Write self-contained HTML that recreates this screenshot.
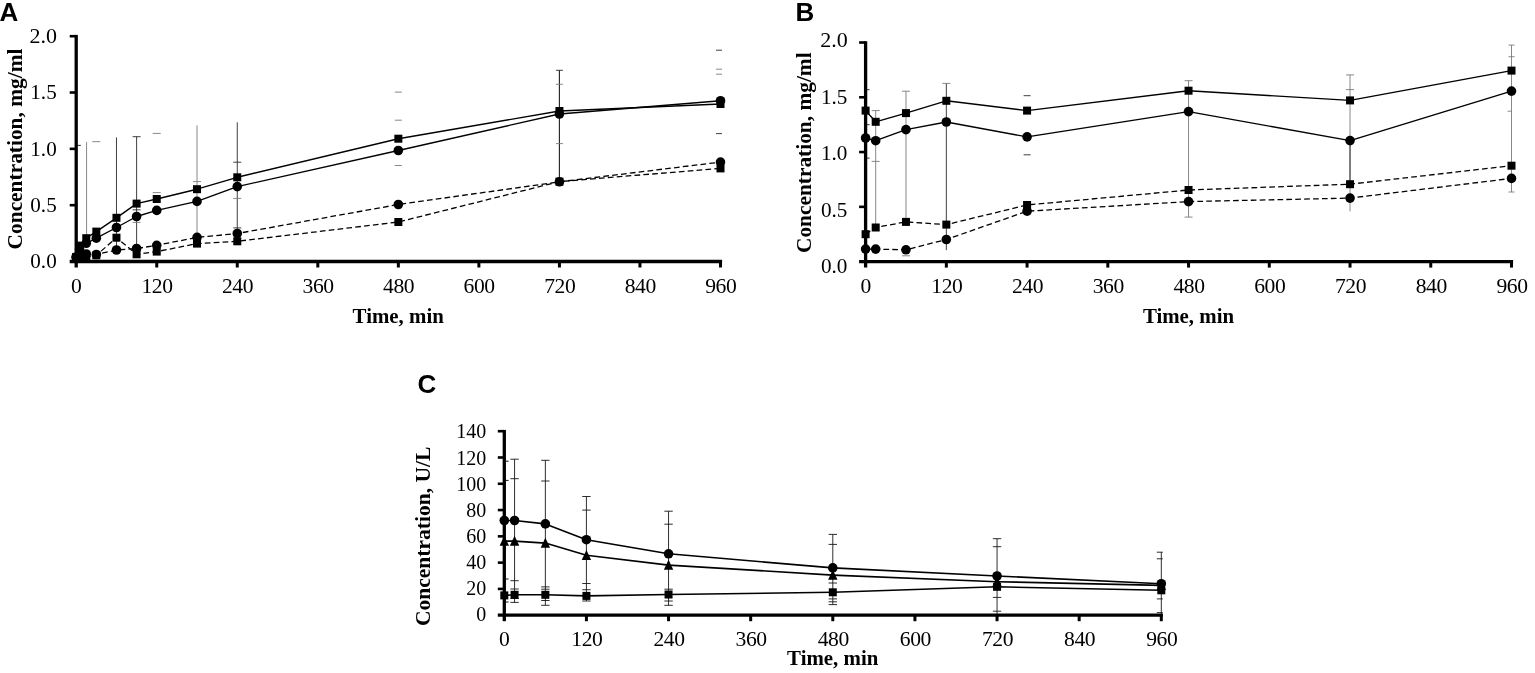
<!DOCTYPE html>
<html lang="en">
<head>
<meta charset="utf-8">
<title>Figure</title>
<style>
html,body{margin:0;padding:0;background:#fff;}
body{width:1535px;height:673px;overflow:hidden;}
svg{display:block;}
</style>
</head>
<body>
<svg width="1535" height="673" viewBox="0 0 1535 673">
<rect x="0" y="0" width="1535" height="673" fill="#fff"/>
<line x1="86.57" y1="142.10" x2="86.57" y2="238.00" stroke="#7a7a7a" stroke-width="0.9" />
<line x1="92.30" y1="141.70" x2="100.30" y2="141.70" stroke="#7a7a7a" stroke-width="0.9" />
<line x1="116.47" y1="137.40" x2="116.47" y2="250.00" stroke="#2a2a2a" stroke-width="0.9" />
<line x1="136.60" y1="136.70" x2="136.60" y2="249.00" stroke="#2a2a2a" stroke-width="0.9" />
<line x1="132.60" y1="136.70" x2="140.60" y2="136.70" stroke="#2a2a2a" stroke-width="0.9" />
<line x1="132.60" y1="209.80" x2="140.60" y2="209.80" stroke="#2a2a2a" stroke-width="0.9" />
<line x1="132.60" y1="222.40" x2="140.60" y2="222.40" stroke="#7a7a7a" stroke-width="0.9" />
<line x1="152.74" y1="133.40" x2="160.74" y2="133.40" stroke="#7a7a7a" stroke-width="0.9" />
<line x1="152.74" y1="192.60" x2="160.74" y2="192.60" stroke="#7a7a7a" stroke-width="0.9" />
<line x1="197.01" y1="125.40" x2="197.01" y2="237.40" stroke="#7a7a7a" stroke-width="0.9" />
<line x1="193.01" y1="181.60" x2="201.01" y2="181.60" stroke="#7a7a7a" stroke-width="0.9" />
<line x1="237.27" y1="122.30" x2="237.27" y2="233.50" stroke="#2a2a2a" stroke-width="0.9" />
<line x1="233.27" y1="162.20" x2="241.27" y2="162.20" stroke="#2a2a2a" stroke-width="0.9" />
<line x1="233.27" y1="198.40" x2="241.27" y2="198.40" stroke="#7a7a7a" stroke-width="0.9" />
<line x1="233.27" y1="227.90" x2="241.27" y2="227.90" stroke="#2a2a2a" stroke-width="0.9" />
<line x1="77.80" y1="145.40" x2="80.80" y2="145.40" stroke="#2a2a2a" stroke-width="1" />
<line x1="394.85" y1="92.10" x2="401.85" y2="92.10" stroke="#7a7a7a" stroke-width="0.9" />
<line x1="394.85" y1="120.20" x2="401.85" y2="120.20" stroke="#7a7a7a" stroke-width="0.9" />
<line x1="394.85" y1="165.50" x2="401.85" y2="165.50" stroke="#7a7a7a" stroke-width="0.9" />
<line x1="559.43" y1="70.30" x2="559.43" y2="182.00" stroke="#2a2a2a" stroke-width="1.2" />
<line x1="555.93" y1="70.30" x2="562.93" y2="70.30" stroke="#2a2a2a" stroke-width="0.9" />
<line x1="555.93" y1="84.30" x2="562.93" y2="84.30" stroke="#7a7a7a" stroke-width="0.9" />
<line x1="555.93" y1="143.60" x2="562.93" y2="143.60" stroke="#7a7a7a" stroke-width="0.9" />
<line x1="716.00" y1="50.20" x2="722.00" y2="50.20" stroke="#2a2a2a" stroke-width="0.9" />
<line x1="716.00" y1="69.20" x2="722.00" y2="69.20" stroke="#7a7a7a" stroke-width="0.9" />
<line x1="716.00" y1="74.20" x2="722.00" y2="74.20" stroke="#7a7a7a" stroke-width="0.9" />
<line x1="716.00" y1="133.60" x2="722.00" y2="133.60" stroke="#2a2a2a" stroke-width="0.9" />
<polyline points="76.20,258.00 79.56,257.50 86.27,257.30 96.33,255.30 116.47,237.70 136.60,254.30 156.74,251.60 197.01,243.60 237.27,241.30 398.35,222.00 559.43,181.60 720.50,168.40" fill="none" stroke="#000" stroke-width="1.3" stroke-dasharray="5.7 3.2" stroke-linejoin="round"/>
<polyline points="76.20,257.50 79.56,256.00 86.27,254.00 96.33,254.50 116.47,250.00 136.60,248.50 156.74,245.30 197.01,237.40 237.27,233.50 398.35,204.50 559.43,181.80 720.50,162.10" fill="none" stroke="#000" stroke-width="1.3" stroke-dasharray="5.7 3.2" stroke-linejoin="round"/>
<polyline points="76.20,256.90 79.56,245.60 86.27,238.20 96.33,231.60 116.47,217.80 136.60,203.60 156.74,199.00 197.01,189.20 237.27,177.30 398.35,138.70 559.43,111.00 720.50,104.00" fill="none" stroke="#000" stroke-width="1.4" stroke-linejoin="round"/>
<polyline points="76.20,257.00 79.56,249.10 86.27,243.30 96.33,238.20 116.47,227.50 136.60,216.50 156.74,210.40 197.01,201.40 237.27,186.60 398.35,150.50 559.43,114.00 720.50,100.70" fill="none" stroke="#000" stroke-width="1.4" stroke-linejoin="round"/>
<rect x="72.20" y="254.00" width="8" height="8" fill="#000"/>
<rect x="75.56" y="253.50" width="8" height="8" fill="#000"/>
<rect x="82.27" y="253.30" width="8" height="8" fill="#000"/>
<rect x="92.33" y="251.30" width="8" height="8" fill="#000"/>
<rect x="112.47" y="233.70" width="8" height="8" fill="#000"/>
<rect x="132.60" y="250.30" width="8" height="8" fill="#000"/>
<rect x="152.74" y="247.60" width="8" height="8" fill="#000"/>
<rect x="193.01" y="239.60" width="8" height="8" fill="#000"/>
<rect x="233.27" y="237.30" width="8" height="8" fill="#000"/>
<rect x="394.35" y="218.00" width="8" height="8" fill="#000"/>
<rect x="555.43" y="177.60" width="8" height="8" fill="#000"/>
<rect x="716.50" y="164.40" width="8" height="8" fill="#000"/>
<circle cx="76.20" cy="257.50" r="4.8" fill="#000"/>
<circle cx="79.56" cy="256.00" r="4.8" fill="#000"/>
<circle cx="86.27" cy="254.00" r="4.8" fill="#000"/>
<circle cx="96.33" cy="254.50" r="4.8" fill="#000"/>
<circle cx="116.47" cy="250.00" r="4.8" fill="#000"/>
<circle cx="136.60" cy="248.50" r="4.8" fill="#000"/>
<circle cx="156.74" cy="245.30" r="4.8" fill="#000"/>
<circle cx="197.01" cy="237.40" r="4.8" fill="#000"/>
<circle cx="237.27" cy="233.50" r="4.8" fill="#000"/>
<circle cx="398.35" cy="204.50" r="4.8" fill="#000"/>
<circle cx="559.43" cy="181.80" r="4.8" fill="#000"/>
<circle cx="720.50" cy="162.10" r="4.8" fill="#000"/>
<rect x="72.20" y="252.90" width="8" height="8" fill="#000"/>
<rect x="75.56" y="241.60" width="8" height="8" fill="#000"/>
<rect x="82.27" y="234.20" width="8" height="8" fill="#000"/>
<rect x="92.33" y="227.60" width="8" height="8" fill="#000"/>
<rect x="112.47" y="213.80" width="8" height="8" fill="#000"/>
<rect x="132.60" y="199.60" width="8" height="8" fill="#000"/>
<rect x="152.74" y="195.00" width="8" height="8" fill="#000"/>
<rect x="193.01" y="185.20" width="8" height="8" fill="#000"/>
<rect x="233.27" y="173.30" width="8" height="8" fill="#000"/>
<rect x="394.35" y="134.70" width="8" height="8" fill="#000"/>
<rect x="555.43" y="107.00" width="8" height="8" fill="#000"/>
<rect x="716.50" y="100.00" width="8" height="8" fill="#000"/>
<circle cx="76.20" cy="257.00" r="4.8" fill="#000"/>
<circle cx="79.56" cy="249.10" r="4.8" fill="#000"/>
<circle cx="86.27" cy="243.30" r="4.8" fill="#000"/>
<circle cx="96.33" cy="238.20" r="4.8" fill="#000"/>
<circle cx="116.47" cy="227.50" r="4.8" fill="#000"/>
<circle cx="136.60" cy="216.50" r="4.8" fill="#000"/>
<circle cx="156.74" cy="210.40" r="4.8" fill="#000"/>
<circle cx="197.01" cy="201.40" r="4.8" fill="#000"/>
<circle cx="237.27" cy="186.60" r="4.8" fill="#000"/>
<circle cx="398.35" cy="150.50" r="4.8" fill="#000"/>
<circle cx="559.43" cy="114.00" r="4.8" fill="#000"/>
<circle cx="720.50" cy="100.70" r="4.8" fill="#000"/>
<line x1="76.20" y1="34.90" x2="76.20" y2="267.50" stroke="#000" stroke-width="3.3" />
<line x1="69.70" y1="261.50" x2="722.10" y2="261.50" stroke="#000" stroke-width="3.3" />
<line x1="69.70" y1="36.20" x2="76.20" y2="36.20" stroke="#000" stroke-width="2.6" />
<line x1="69.70" y1="92.53" x2="76.20" y2="92.53" stroke="#000" stroke-width="2.6" />
<line x1="69.70" y1="148.85" x2="76.20" y2="148.85" stroke="#000" stroke-width="2.6" />
<line x1="69.70" y1="205.18" x2="76.20" y2="205.18" stroke="#000" stroke-width="2.6" />
<line x1="156.74" y1="261.50" x2="156.74" y2="267.50" stroke="#000" stroke-width="3.0" />
<line x1="237.27" y1="261.50" x2="237.27" y2="267.50" stroke="#000" stroke-width="3.0" />
<line x1="317.81" y1="261.50" x2="317.81" y2="267.50" stroke="#000" stroke-width="3.0" />
<line x1="398.35" y1="261.50" x2="398.35" y2="267.50" stroke="#000" stroke-width="3.0" />
<line x1="478.89" y1="261.50" x2="478.89" y2="267.50" stroke="#000" stroke-width="3.0" />
<line x1="559.43" y1="261.50" x2="559.43" y2="267.50" stroke="#000" stroke-width="3.0" />
<line x1="639.96" y1="261.50" x2="639.96" y2="267.50" stroke="#000" stroke-width="3.0" />
<line x1="720.50" y1="261.50" x2="720.50" y2="267.50" stroke="#000" stroke-width="3.0" />
<text x="57.00" y="43.00" font-family='"Liberation Serif", "Times New Roman", serif' font-size="22.0" font-weight="normal" text-anchor="end">2.0</text>
<text x="56.70" y="99.30" font-family='"Liberation Serif", "Times New Roman", serif' font-size="21.1" font-weight="normal" text-anchor="end">1.5</text>
<text x="56.70" y="155.60" font-family='"Liberation Serif", "Times New Roman", serif' font-size="21.1" font-weight="normal" text-anchor="end">1.0</text>
<text x="56.70" y="211.90" font-family='"Liberation Serif", "Times New Roman", serif' font-size="21.1" font-weight="normal" text-anchor="end">0.5</text>
<text x="56.70" y="268.20" font-family='"Liberation Serif", "Times New Roman", serif' font-size="21.1" font-weight="normal" text-anchor="end">0.0</text>
<text x="76.20" y="293.40" font-family='"Liberation Serif", "Times New Roman", serif' font-size="21.6" font-weight="normal" text-anchor="middle" letter-spacing="-0.4">0</text>
<text x="157.04" y="293.40" font-family='"Liberation Serif", "Times New Roman", serif' font-size="21.6" font-weight="normal" text-anchor="middle" letter-spacing="-0.4">120</text>
<text x="237.57" y="293.40" font-family='"Liberation Serif", "Times New Roman", serif' font-size="21.6" font-weight="normal" text-anchor="middle" letter-spacing="-0.4">240</text>
<text x="318.11" y="293.40" font-family='"Liberation Serif", "Times New Roman", serif' font-size="21.6" font-weight="normal" text-anchor="middle" letter-spacing="-0.4">360</text>
<text x="398.65" y="293.40" font-family='"Liberation Serif", "Times New Roman", serif' font-size="21.6" font-weight="normal" text-anchor="middle" letter-spacing="-0.4">480</text>
<text x="479.19" y="293.40" font-family='"Liberation Serif", "Times New Roman", serif' font-size="21.6" font-weight="normal" text-anchor="middle" letter-spacing="-0.4">600</text>
<text x="559.73" y="293.40" font-family='"Liberation Serif", "Times New Roman", serif' font-size="21.6" font-weight="normal" text-anchor="middle" letter-spacing="-0.4">720</text>
<text x="640.26" y="293.40" font-family='"Liberation Serif", "Times New Roman", serif' font-size="21.6" font-weight="normal" text-anchor="middle" letter-spacing="-0.4">840</text>
<text x="720.80" y="293.40" font-family='"Liberation Serif", "Times New Roman", serif' font-size="21.6" font-weight="normal" text-anchor="middle" letter-spacing="-0.4">960</text>
<text x="398.20" y="322.90" font-family='"Liberation Serif", "Times New Roman", serif' font-size="21" font-weight="bold" text-anchor="middle" textLength="91.2" lengthAdjust="spacingAndGlyphs">Time, min</text>
<text x="21.60" y="249.40" font-family='"Liberation Serif", "Times New Roman", serif' font-size="21.4" font-weight="bold" text-anchor="start" transform="rotate(-90 21.60 249.40)" textLength="200.8" lengthAdjust="spacingAndGlyphs">Concentration, mg/ml</text>
<text x="-0.50" y="21.20" font-family='"Liberation Sans", Arial, sans-serif' font-size="26" font-weight="bold" text-anchor="start">A</text>
<line x1="875.69" y1="110.60" x2="875.69" y2="227.50" stroke="#7a7a7a" stroke-width="0.9" />
<line x1="871.69" y1="110.60" x2="879.69" y2="110.60" stroke="#7a7a7a" stroke-width="0.9" />
<line x1="871.69" y1="161.40" x2="879.69" y2="161.40" stroke="#7a7a7a" stroke-width="0.9" />
<line x1="905.97" y1="91.20" x2="905.97" y2="222.00" stroke="#7a7a7a" stroke-width="0.9" />
<line x1="901.97" y1="91.20" x2="909.97" y2="91.20" stroke="#7a7a7a" stroke-width="0.9" />
<line x1="901.97" y1="255.80" x2="909.97" y2="255.80" stroke="#7a7a7a" stroke-width="0.9" />
<line x1="946.34" y1="83.40" x2="946.34" y2="250.20" stroke="#2a2a2a" stroke-width="0.9" />
<line x1="942.34" y1="83.40" x2="950.34" y2="83.40" stroke="#7a7a7a" stroke-width="0.9" />
<line x1="1023.58" y1="95.70" x2="1030.58" y2="95.70" stroke="#2a2a2a" stroke-width="0.9" />
<line x1="1023.58" y1="154.80" x2="1030.58" y2="154.80" stroke="#2a2a2a" stroke-width="0.9" />
<line x1="867.20" y1="89.70" x2="869.60" y2="89.70" stroke="#2a2a2a" stroke-width="1" />
<line x1="867.20" y1="124.70" x2="869.60" y2="124.70" stroke="#2a2a2a" stroke-width="1" />
<line x1="867.20" y1="158.10" x2="869.60" y2="158.10" stroke="#2a2a2a" stroke-width="1" />
<line x1="1188.55" y1="80.70" x2="1188.55" y2="217.10" stroke="#7a7a7a" stroke-width="0.9" />
<line x1="1184.55" y1="80.70" x2="1192.55" y2="80.70" stroke="#7a7a7a" stroke-width="0.9" />
<line x1="1184.55" y1="217.10" x2="1192.55" y2="217.10" stroke="#7a7a7a" stroke-width="0.9" />
<line x1="1350.03" y1="74.90" x2="1350.03" y2="211.30" stroke="#7a7a7a" stroke-width="0.9" />
<line x1="1350.03" y1="140.00" x2="1350.03" y2="184.00" stroke="#2a2a2a" stroke-width="0.9" />
<line x1="1346.03" y1="74.90" x2="1354.03" y2="74.90" stroke="#7a7a7a" stroke-width="0.9" />
<line x1="1346.03" y1="89.60" x2="1354.03" y2="89.60" stroke="#7a7a7a" stroke-width="0.9" />
<line x1="1511.50" y1="45.10" x2="1511.50" y2="192.00" stroke="#7a7a7a" stroke-width="0.9" />
<line x1="1508.50" y1="45.10" x2="1514.50" y2="45.10" stroke="#7a7a7a" stroke-width="0.9" />
<line x1="1508.50" y1="56.70" x2="1514.50" y2="56.70" stroke="#7a7a7a" stroke-width="0.9" />
<line x1="1507.50" y1="111.20" x2="1511.50" y2="111.20" stroke="#7a7a7a" stroke-width="0.9" />
<line x1="1508.50" y1="192.00" x2="1514.50" y2="192.00" stroke="#7a7a7a" stroke-width="0.9" />
<polyline points="865.60,234.20 875.69,227.50 905.97,221.90 946.34,224.60 1027.08,205.00 1188.55,190.00 1350.03,184.20 1511.50,165.70" fill="none" stroke="#000" stroke-width="1.3" stroke-dasharray="5.7 3.2" stroke-linejoin="round"/>
<polyline points="865.60,249.10 875.69,249.10 905.97,249.80 946.34,239.50 1027.08,211.20 1188.55,201.60 1350.03,198.10 1511.50,178.40" fill="none" stroke="#000" stroke-width="1.3" stroke-dasharray="5.7 3.2" stroke-linejoin="round"/>
<polyline points="865.60,110.60 875.69,121.80 905.97,113.10 946.34,100.80 1027.08,110.60 1188.55,90.70 1350.03,100.40 1511.50,70.60" fill="none" stroke="#000" stroke-width="1.4" stroke-linejoin="round"/>
<polyline points="865.60,138.00 875.69,140.70 905.97,129.60 946.34,122.00 1027.08,136.90 1188.55,111.60 1350.03,140.60 1511.50,91.10" fill="none" stroke="#000" stroke-width="1.4" stroke-linejoin="round"/>
<rect x="861.60" y="230.20" width="8" height="8" fill="#000"/>
<rect x="871.69" y="223.50" width="8" height="8" fill="#000"/>
<rect x="901.97" y="217.90" width="8" height="8" fill="#000"/>
<rect x="942.34" y="220.60" width="8" height="8" fill="#000"/>
<rect x="1023.08" y="201.00" width="8" height="8" fill="#000"/>
<rect x="1184.55" y="186.00" width="8" height="8" fill="#000"/>
<rect x="1346.03" y="180.20" width="8" height="8" fill="#000"/>
<rect x="1507.50" y="161.70" width="8" height="8" fill="#000"/>
<circle cx="865.60" cy="249.10" r="4.8" fill="#000"/>
<circle cx="875.69" cy="249.10" r="4.8" fill="#000"/>
<circle cx="905.97" cy="249.80" r="4.8" fill="#000"/>
<circle cx="946.34" cy="239.50" r="4.8" fill="#000"/>
<circle cx="1027.08" cy="211.20" r="4.8" fill="#000"/>
<circle cx="1188.55" cy="201.60" r="4.8" fill="#000"/>
<circle cx="1350.03" cy="198.10" r="4.8" fill="#000"/>
<circle cx="1511.50" cy="178.40" r="4.8" fill="#000"/>
<rect x="861.60" y="106.60" width="8" height="8" fill="#000"/>
<rect x="871.69" y="117.80" width="8" height="8" fill="#000"/>
<rect x="901.97" y="109.10" width="8" height="8" fill="#000"/>
<rect x="942.34" y="96.80" width="8" height="8" fill="#000"/>
<rect x="1023.08" y="106.60" width="8" height="8" fill="#000"/>
<rect x="1184.55" y="86.70" width="8" height="8" fill="#000"/>
<rect x="1346.03" y="96.40" width="8" height="8" fill="#000"/>
<rect x="1507.50" y="66.60" width="8" height="8" fill="#000"/>
<circle cx="865.60" cy="138.00" r="4.8" fill="#000"/>
<circle cx="875.69" cy="140.70" r="4.8" fill="#000"/>
<circle cx="905.97" cy="129.60" r="4.8" fill="#000"/>
<circle cx="946.34" cy="122.00" r="4.8" fill="#000"/>
<circle cx="1027.08" cy="136.90" r="4.8" fill="#000"/>
<circle cx="1188.55" cy="111.60" r="4.8" fill="#000"/>
<circle cx="1350.03" cy="140.60" r="4.8" fill="#000"/>
<circle cx="1511.50" cy="91.10" r="4.8" fill="#000"/>
<line x1="865.60" y1="41.20" x2="865.60" y2="267.60" stroke="#000" stroke-width="3.3" />
<line x1="859.10" y1="261.60" x2="1513.10" y2="261.60" stroke="#000" stroke-width="3.3" />
<line x1="859.10" y1="42.50" x2="865.60" y2="42.50" stroke="#000" stroke-width="2.6" />
<line x1="859.10" y1="97.28" x2="865.60" y2="97.28" stroke="#000" stroke-width="2.6" />
<line x1="859.10" y1="152.05" x2="865.60" y2="152.05" stroke="#000" stroke-width="2.6" />
<line x1="859.10" y1="206.83" x2="865.60" y2="206.83" stroke="#000" stroke-width="2.6" />
<line x1="946.34" y1="261.60" x2="946.34" y2="267.60" stroke="#000" stroke-width="3.0" />
<line x1="1027.08" y1="261.60" x2="1027.08" y2="267.60" stroke="#000" stroke-width="3.0" />
<line x1="1107.81" y1="261.60" x2="1107.81" y2="267.60" stroke="#000" stroke-width="3.0" />
<line x1="1188.55" y1="261.60" x2="1188.55" y2="267.60" stroke="#000" stroke-width="3.0" />
<line x1="1269.29" y1="261.60" x2="1269.29" y2="267.60" stroke="#000" stroke-width="3.0" />
<line x1="1350.03" y1="261.60" x2="1350.03" y2="267.60" stroke="#000" stroke-width="3.0" />
<line x1="1430.76" y1="261.60" x2="1430.76" y2="267.60" stroke="#000" stroke-width="3.0" />
<line x1="1511.50" y1="261.60" x2="1511.50" y2="267.60" stroke="#000" stroke-width="3.0" />
<text x="847.70" y="47.20" font-family='"Liberation Serif", "Times New Roman", serif' font-size="22.0" font-weight="normal" text-anchor="end">2.0</text>
<text x="847.40" y="103.90" font-family='"Liberation Serif", "Times New Roman", serif' font-size="21.2" font-weight="normal" text-anchor="end">1.5</text>
<text x="847.40" y="160.20" font-family='"Liberation Serif", "Times New Roman", serif' font-size="21.2" font-weight="normal" text-anchor="end">1.0</text>
<text x="847.40" y="216.50" font-family='"Liberation Serif", "Times New Roman", serif' font-size="21.2" font-weight="normal" text-anchor="end">0.5</text>
<text x="847.40" y="272.80" font-family='"Liberation Serif", "Times New Roman", serif' font-size="21.2" font-weight="normal" text-anchor="end">0.0</text>
<text x="865.60" y="293.40" font-family='"Liberation Serif", "Times New Roman", serif' font-size="21.6" font-weight="normal" text-anchor="middle" letter-spacing="-0.4">0</text>
<text x="946.84" y="293.40" font-family='"Liberation Serif", "Times New Roman", serif' font-size="21.6" font-weight="normal" text-anchor="middle" letter-spacing="-0.4">120</text>
<text x="1027.58" y="293.40" font-family='"Liberation Serif", "Times New Roman", serif' font-size="21.6" font-weight="normal" text-anchor="middle" letter-spacing="-0.4">240</text>
<text x="1108.31" y="293.40" font-family='"Liberation Serif", "Times New Roman", serif' font-size="21.6" font-weight="normal" text-anchor="middle" letter-spacing="-0.4">360</text>
<text x="1189.05" y="293.40" font-family='"Liberation Serif", "Times New Roman", serif' font-size="21.6" font-weight="normal" text-anchor="middle" letter-spacing="-0.4">480</text>
<text x="1269.79" y="293.40" font-family='"Liberation Serif", "Times New Roman", serif' font-size="21.6" font-weight="normal" text-anchor="middle" letter-spacing="-0.4">600</text>
<text x="1350.53" y="293.40" font-family='"Liberation Serif", "Times New Roman", serif' font-size="21.6" font-weight="normal" text-anchor="middle" letter-spacing="-0.4">720</text>
<text x="1431.26" y="293.40" font-family='"Liberation Serif", "Times New Roman", serif' font-size="21.6" font-weight="normal" text-anchor="middle" letter-spacing="-0.4">840</text>
<text x="1512.00" y="293.40" font-family='"Liberation Serif", "Times New Roman", serif' font-size="21.6" font-weight="normal" text-anchor="middle" letter-spacing="-0.4">960</text>
<text x="1188.50" y="323.40" font-family='"Liberation Serif", "Times New Roman", serif' font-size="21" font-weight="bold" text-anchor="middle" textLength="91.2" lengthAdjust="spacingAndGlyphs">Time, min</text>
<text x="810.70" y="253.00" font-family='"Liberation Serif", "Times New Roman", serif' font-size="21.4" font-weight="bold" text-anchor="start" transform="rotate(-90 810.70 253.00)" textLength="200.6" lengthAdjust="spacingAndGlyphs">Concentration, mg/ml</text>
<text x="795.60" y="21.40" font-family='"Liberation Sans", Arial, sans-serif' font-size="26" font-weight="bold" text-anchor="start">B</text>
<line x1="514.57" y1="459.20" x2="514.57" y2="602.40" stroke="#161616" stroke-width="0.9" />
<line x1="510.37" y1="459.20" x2="518.77" y2="459.20" stroke="#161616" stroke-width="0.9" />
<line x1="510.37" y1="478.70" x2="518.77" y2="478.70" stroke="#161616" stroke-width="0.9" />
<line x1="510.37" y1="580.70" x2="518.77" y2="580.70" stroke="#161616" stroke-width="0.9" />
<line x1="510.37" y1="602.40" x2="518.77" y2="602.40" stroke="#161616" stroke-width="0.9" />
<line x1="510.37" y1="589.00" x2="518.77" y2="589.00" stroke="#161616" stroke-width="0.9" />
<line x1="510.37" y1="598.50" x2="518.77" y2="598.50" stroke="#161616" stroke-width="0.9" />
<line x1="545.36" y1="460.30" x2="545.36" y2="605.30" stroke="#161616" stroke-width="0.9" />
<line x1="541.16" y1="460.30" x2="549.56" y2="460.30" stroke="#161616" stroke-width="0.9" />
<line x1="541.16" y1="481.00" x2="549.56" y2="481.00" stroke="#161616" stroke-width="0.9" />
<line x1="541.16" y1="586.90" x2="549.56" y2="586.90" stroke="#161616" stroke-width="0.9" />
<line x1="541.16" y1="589.20" x2="549.56" y2="589.20" stroke="#161616" stroke-width="0.9" />
<line x1="541.16" y1="600.50" x2="549.56" y2="600.50" stroke="#161616" stroke-width="0.9" />
<line x1="541.16" y1="605.30" x2="549.56" y2="605.30" stroke="#161616" stroke-width="0.9" />
<line x1="586.42" y1="496.50" x2="586.42" y2="601.00" stroke="#161616" stroke-width="0.9" />
<line x1="582.22" y1="496.50" x2="590.62" y2="496.50" stroke="#161616" stroke-width="0.9" />
<line x1="582.22" y1="510.10" x2="590.62" y2="510.10" stroke="#161616" stroke-width="0.9" />
<line x1="582.22" y1="583.50" x2="590.62" y2="583.50" stroke="#161616" stroke-width="0.9" />
<line x1="582.22" y1="589.70" x2="590.62" y2="589.70" stroke="#161616" stroke-width="0.9" />
<line x1="582.22" y1="601.00" x2="590.62" y2="601.00" stroke="#161616" stroke-width="0.9" />
<line x1="668.55" y1="511.20" x2="668.55" y2="605.30" stroke="#161616" stroke-width="0.9" />
<line x1="664.35" y1="511.20" x2="672.75" y2="511.20" stroke="#161616" stroke-width="0.9" />
<line x1="664.35" y1="524.20" x2="672.75" y2="524.20" stroke="#161616" stroke-width="0.9" />
<line x1="664.35" y1="589.20" x2="672.75" y2="589.20" stroke="#161616" stroke-width="0.9" />
<line x1="664.35" y1="601.00" x2="672.75" y2="601.00" stroke="#161616" stroke-width="0.9" />
<line x1="664.35" y1="605.30" x2="672.75" y2="605.30" stroke="#161616" stroke-width="0.9" />
<line x1="832.80" y1="534.40" x2="832.80" y2="604.60" stroke="#161616" stroke-width="0.9" />
<line x1="828.60" y1="534.40" x2="837.00" y2="534.40" stroke="#161616" stroke-width="0.9" />
<line x1="828.60" y1="544.40" x2="837.00" y2="544.40" stroke="#161616" stroke-width="0.9" />
<line x1="828.60" y1="583.00" x2="837.00" y2="583.00" stroke="#161616" stroke-width="0.9" />
<line x1="828.60" y1="598.90" x2="837.00" y2="598.90" stroke="#161616" stroke-width="0.9" />
<line x1="828.60" y1="601.80" x2="837.00" y2="601.80" stroke="#161616" stroke-width="0.9" />
<line x1="828.60" y1="604.60" x2="837.00" y2="604.60" stroke="#161616" stroke-width="0.9" />
<line x1="997.05" y1="538.70" x2="997.05" y2="614.60" stroke="#161616" stroke-width="0.9" />
<line x1="992.85" y1="538.70" x2="1001.25" y2="538.70" stroke="#161616" stroke-width="0.9" />
<line x1="992.85" y1="546.70" x2="1001.25" y2="546.70" stroke="#161616" stroke-width="0.9" />
<line x1="992.85" y1="597.40" x2="1001.25" y2="597.40" stroke="#161616" stroke-width="0.9" />
<line x1="992.85" y1="611.20" x2="1001.25" y2="611.20" stroke="#161616" stroke-width="0.9" />
<line x1="1161.30" y1="552.20" x2="1161.30" y2="614.60" stroke="#161616" stroke-width="0.9" />
<line x1="1156.80" y1="552.20" x2="1162.80" y2="552.20" stroke="#161616" stroke-width="0.9" />
<line x1="1156.80" y1="558.80" x2="1162.80" y2="558.80" stroke="#161616" stroke-width="0.9" />
<line x1="1156.80" y1="598.90" x2="1162.80" y2="598.90" stroke="#161616" stroke-width="0.9" />
<line x1="1156.80" y1="612.60" x2="1162.80" y2="612.60" stroke="#161616" stroke-width="0.9" />
<line x1="506.00" y1="461.20" x2="508.60" y2="461.20" stroke="#161616" stroke-width="1" />
<line x1="506.00" y1="480.40" x2="508.60" y2="480.40" stroke="#161616" stroke-width="1" />
<line x1="506.00" y1="579.00" x2="508.60" y2="579.00" stroke="#161616" stroke-width="1" />
<line x1="506.00" y1="602.00" x2="508.60" y2="602.00" stroke="#161616" stroke-width="1" />
<polyline points="504.30,595.40 514.57,594.80 545.36,594.80 586.42,595.90 668.55,594.50 832.80,592.30 997.05,586.80 1161.30,590.30" fill="none" stroke="#000" stroke-width="1.6" stroke-linejoin="round"/>
<polyline points="504.30,541.10 514.57,541.10 545.36,543.10 586.42,555.30 668.55,565.10 832.80,575.10 997.05,581.70 1161.30,585.40" fill="none" stroke="#000" stroke-width="1.6" stroke-linejoin="round"/>
<polyline points="504.30,520.50 514.57,520.50 545.36,523.90 586.42,539.70 668.55,553.80 832.80,567.90 997.05,576.00 1161.30,583.70" fill="none" stroke="#000" stroke-width="1.6" stroke-linejoin="round"/>
<rect x="500.30" y="591.40" width="8" height="8" fill="#000"/>
<rect x="510.57" y="590.80" width="8" height="8" fill="#000"/>
<rect x="541.36" y="590.80" width="8" height="8" fill="#000"/>
<rect x="582.42" y="591.90" width="8" height="8" fill="#000"/>
<rect x="664.55" y="590.50" width="8" height="8" fill="#000"/>
<rect x="828.80" y="588.30" width="8" height="8" fill="#000"/>
<rect x="993.05" y="582.80" width="8" height="8" fill="#000"/>
<rect x="1157.30" y="586.30" width="8" height="8" fill="#000"/>
<polygon points="504.30,535.70 499.60,545.80 509.00,545.80" fill="#000"/>
<polygon points="514.57,535.70 509.87,545.80 519.27,545.80" fill="#000"/>
<polygon points="545.36,537.70 540.66,547.80 550.06,547.80" fill="#000"/>
<polygon points="586.42,549.90 581.72,560.00 591.12,560.00" fill="#000"/>
<polygon points="668.55,559.70 663.85,569.80 673.25,569.80" fill="#000"/>
<polygon points="832.80,569.70 828.10,579.80 837.50,579.80" fill="#000"/>
<polygon points="997.05,576.30 992.35,586.40 1001.75,586.40" fill="#000"/>
<polygon points="1161.30,580.00 1156.60,590.10 1166.00,590.10" fill="#000"/>
<circle cx="504.30" cy="520.50" r="4.8" fill="#000"/>
<circle cx="514.57" cy="520.50" r="4.8" fill="#000"/>
<circle cx="545.36" cy="523.90" r="4.8" fill="#000"/>
<circle cx="586.42" cy="539.70" r="4.8" fill="#000"/>
<circle cx="668.55" cy="553.80" r="4.8" fill="#000"/>
<circle cx="832.80" cy="567.90" r="4.8" fill="#000"/>
<circle cx="997.05" cy="576.00" r="4.8" fill="#000"/>
<circle cx="1161.30" cy="583.70" r="4.8" fill="#000"/>
<line x1="504.30" y1="429.90" x2="504.30" y2="621.20" stroke="#000" stroke-width="3.3" />
<line x1="497.80" y1="615.20" x2="1162.90" y2="615.20" stroke="#000" stroke-width="3.3" />
<line x1="497.80" y1="431.20" x2="504.30" y2="431.20" stroke="#000" stroke-width="2.6" />
<line x1="497.80" y1="457.49" x2="504.30" y2="457.49" stroke="#000" stroke-width="2.6" />
<line x1="497.80" y1="483.77" x2="504.30" y2="483.77" stroke="#000" stroke-width="2.6" />
<line x1="497.80" y1="510.06" x2="504.30" y2="510.06" stroke="#000" stroke-width="2.6" />
<line x1="497.80" y1="536.34" x2="504.30" y2="536.34" stroke="#000" stroke-width="2.6" />
<line x1="497.80" y1="562.63" x2="504.30" y2="562.63" stroke="#000" stroke-width="2.6" />
<line x1="497.80" y1="588.91" x2="504.30" y2="588.91" stroke="#000" stroke-width="2.6" />
<line x1="586.42" y1="615.20" x2="586.42" y2="621.20" stroke="#000" stroke-width="3.0" />
<line x1="668.55" y1="615.20" x2="668.55" y2="621.20" stroke="#000" stroke-width="3.0" />
<line x1="750.67" y1="615.20" x2="750.67" y2="621.20" stroke="#000" stroke-width="3.0" />
<line x1="832.80" y1="615.20" x2="832.80" y2="621.20" stroke="#000" stroke-width="3.0" />
<line x1="914.92" y1="615.20" x2="914.92" y2="621.20" stroke="#000" stroke-width="3.0" />
<line x1="997.05" y1="615.20" x2="997.05" y2="621.20" stroke="#000" stroke-width="3.0" />
<line x1="1079.17" y1="615.20" x2="1079.17" y2="621.20" stroke="#000" stroke-width="3.0" />
<line x1="1161.30" y1="615.20" x2="1161.30" y2="621.20" stroke="#000" stroke-width="3.0" />
<text x="486.20" y="438.40" font-family='"Liberation Serif", "Times New Roman", serif' font-size="21.4" font-weight="normal" text-anchor="end" textLength="30.0" lengthAdjust="spacingAndGlyphs">140</text>
<text x="486.20" y="464.50" font-family='"Liberation Serif", "Times New Roman", serif' font-size="21.4" font-weight="normal" text-anchor="end" textLength="30.0" lengthAdjust="spacingAndGlyphs">120</text>
<text x="486.20" y="490.60" font-family='"Liberation Serif", "Times New Roman", serif' font-size="21.4" font-weight="normal" text-anchor="end" textLength="30.0" lengthAdjust="spacingAndGlyphs">100</text>
<text x="486.20" y="516.70" font-family='"Liberation Serif", "Times New Roman", serif' font-size="21.4" font-weight="normal" text-anchor="end" textLength="20.0" lengthAdjust="spacingAndGlyphs">80</text>
<text x="486.20" y="542.80" font-family='"Liberation Serif", "Times New Roman", serif' font-size="21.4" font-weight="normal" text-anchor="end" textLength="20.0" lengthAdjust="spacingAndGlyphs">60</text>
<text x="486.20" y="568.90" font-family='"Liberation Serif", "Times New Roman", serif' font-size="21.4" font-weight="normal" text-anchor="end" textLength="20.0" lengthAdjust="spacingAndGlyphs">40</text>
<text x="486.20" y="595.00" font-family='"Liberation Serif", "Times New Roman", serif' font-size="21.4" font-weight="normal" text-anchor="end" textLength="20.0" lengthAdjust="spacingAndGlyphs">20</text>
<text x="486.20" y="621.10" font-family='"Liberation Serif", "Times New Roman", serif' font-size="21.4" font-weight="normal" text-anchor="end" textLength="10.0" lengthAdjust="spacingAndGlyphs">0</text>
<text x="504.30" y="646.40" font-family='"Liberation Serif", "Times New Roman", serif' font-size="21.6" font-weight="normal" text-anchor="middle" letter-spacing="-0.4">0</text>
<text x="586.92" y="646.40" font-family='"Liberation Serif", "Times New Roman", serif' font-size="21.6" font-weight="normal" text-anchor="middle" letter-spacing="-0.4">120</text>
<text x="669.05" y="646.40" font-family='"Liberation Serif", "Times New Roman", serif' font-size="21.6" font-weight="normal" text-anchor="middle" letter-spacing="-0.4">240</text>
<text x="751.17" y="646.40" font-family='"Liberation Serif", "Times New Roman", serif' font-size="21.6" font-weight="normal" text-anchor="middle" letter-spacing="-0.4">360</text>
<text x="833.30" y="646.40" font-family='"Liberation Serif", "Times New Roman", serif' font-size="21.6" font-weight="normal" text-anchor="middle" letter-spacing="-0.4">480</text>
<text x="915.42" y="646.40" font-family='"Liberation Serif", "Times New Roman", serif' font-size="21.6" font-weight="normal" text-anchor="middle" letter-spacing="-0.4">600</text>
<text x="997.55" y="646.40" font-family='"Liberation Serif", "Times New Roman", serif' font-size="21.6" font-weight="normal" text-anchor="middle" letter-spacing="-0.4">720</text>
<text x="1079.67" y="646.40" font-family='"Liberation Serif", "Times New Roman", serif' font-size="21.6" font-weight="normal" text-anchor="middle" letter-spacing="-0.4">840</text>
<text x="1161.80" y="646.40" font-family='"Liberation Serif", "Times New Roman", serif' font-size="21.6" font-weight="normal" text-anchor="middle" letter-spacing="-0.4">960</text>
<text x="832.70" y="664.80" font-family='"Liberation Serif", "Times New Roman", serif' font-size="21" font-weight="bold" text-anchor="middle" textLength="91.2" lengthAdjust="spacingAndGlyphs">Time, min</text>
<text x="429.90" y="626.00" font-family='"Liberation Serif", "Times New Roman", serif' font-size="21.6" font-weight="bold" text-anchor="start" transform="rotate(-90 429.90 626.00)" textLength="179.3" lengthAdjust="spacingAndGlyphs">Concentration, U/L</text>
<text x="417.60" y="393.00" font-family='"Liberation Sans", Arial, sans-serif' font-size="26" font-weight="bold" text-anchor="start">C</text>
</svg>
</body>
</html>
